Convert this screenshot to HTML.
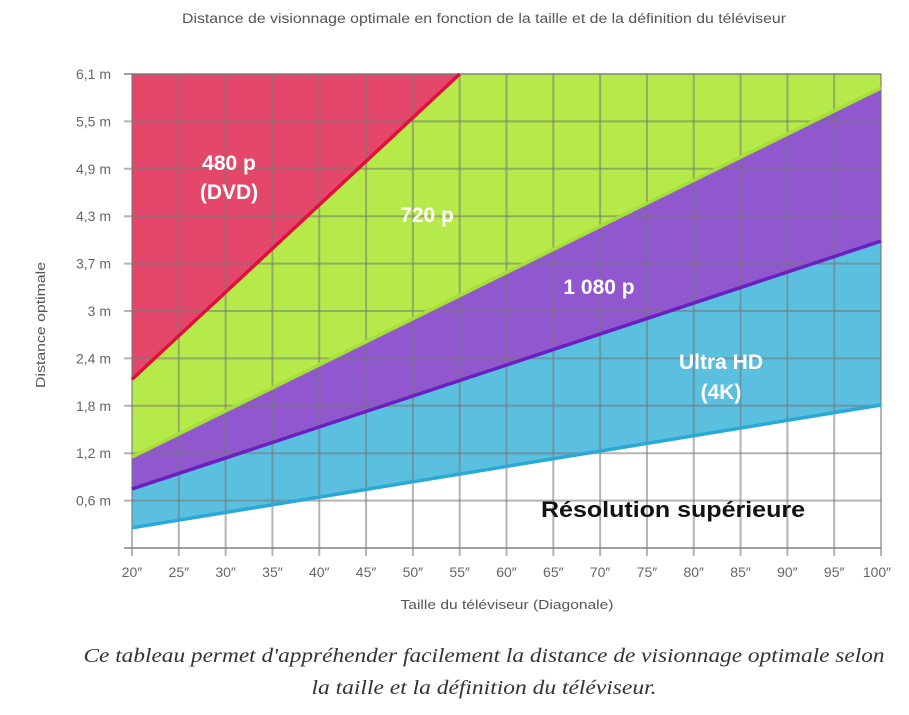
<!DOCTYPE html>
<html><head><meta charset="utf-8"><style>
body{margin:0;background:#fff;width:909px;height:710px;overflow:hidden;font-family:"Liberation Sans",sans-serif}
</style></head><body>
<svg id="chart" width="909" height="710" xmlns="http://www.w3.org/2000/svg">
<text x="484" y="23" text-anchor="middle" font-size="13.5" fill="#555" textLength="604" lengthAdjust="spacingAndGlyphs">Distance de visionnage optimale en fonction de la taille et de la définition du téléviseur</text>
<g id="fills"></g><g id="grid"></g><g id="lines"></g><g id="axes"></g>
<text x="229" y="170" text-anchor="middle" font-size="21" font-weight="bold" fill="#fff">480 p</text>
<text x="229" y="199" text-anchor="middle" font-size="21" font-weight="bold" fill="#fff">(DVD)</text>
<text x="427" y="222" text-anchor="middle" font-size="21" font-weight="bold" fill="#fff">720 p</text>
<text x="599" y="294" text-anchor="middle" font-size="21" font-weight="bold" fill="#fff">1 080 p</text>
<text x="721" y="369" text-anchor="middle" font-size="21" font-weight="bold" fill="#fff">Ultra HD</text>
<text x="721" y="399" text-anchor="middle" font-size="21" font-weight="bold" fill="#fff">(4K)</text>
<text x="673" y="517" text-anchor="middle" font-size="22" font-weight="bold" fill="#111" textLength="264" lengthAdjust="spacingAndGlyphs">Résolution supérieure</text>
<text transform="translate(45,325) rotate(-90)" text-anchor="middle" font-size="13" fill="#555" textLength="126" lengthAdjust="spacingAndGlyphs">Distance optimale</text>
<text x="507" y="609" text-anchor="middle" font-size="13" fill="#555" textLength="213" lengthAdjust="spacingAndGlyphs">Taille du téléviseur (Diagonale)</text>
<text x="484" y="662" text-anchor="middle" font-size="20" font-style="italic" font-family="Liberation Serif, serif" fill="#333" textLength="801" lengthAdjust="spacingAndGlyphs">Ce tableau permet d'appréhender facilement la distance de visionnage optimale selon</text>
<text x="484" y="694" text-anchor="middle" font-size="20" font-style="italic" font-family="Liberation Serif, serif" fill="#333" textLength="345" lengthAdjust="spacingAndGlyphs">la taille et la définition du téléviseur.</text>
</svg>
<script>
const xTicks=[20,25,30,35,40,45,50,55,60,65,70,75,80,85,90,95,100];
const yTicks=[0,0.61,1.22,1.83,2.44,3.05,3.66,4.27,4.88,5.49,6.1];
const yTickLabels=["","0,6 m","1,2 m","1,8 m","2,4 m","3 m","3,7 m","4,3 m","4,9 m","5,5 m","6,1 m"];
const line480=[[20,2.17],[55,6.1]];
const line720=[[20,1.17],[100,5.92]];
const line1080=[[20,0.76],[100,3.95]];
const line4k=[[20,0.26],[100,1.84]];
const NS="http://www.w3.org/2000/svg";
const X=v=>132+(v-20)*(881-132)/80;
const Y=v=>548-v*(548-74)/6.1;
function mk(p,t,a){const e=document.createElementNS(NS,t);for(const k in a)e.setAttribute(k,a[k]);document.getElementById(p).appendChild(e);return e;}
const pts=l=>l.map(p=>X(p[0])+","+Y(p[1])).join(" ");
const TOP=6.1;
let e;
e=mk("fills","rect",{x:X(20),y:Y(TOP),width:X(100)-X(20),height:Y(0)-Y(TOP),fill:"#fff"});

e=mk("fills","polygon",{points:pts([[20,line4k[0][1]],[100,line4k[1][1]],[100,TOP],[20,TOP]]),fill:"#5bbfdf"});

e=mk("fills","polygon",{points:pts([[20,line1080[0][1]],[100,line1080[1][1]],[100,TOP],[20,TOP]]),fill:"#9057cf"});

e=mk("fills","polygon",{points:pts([[20,line720[0][1]],[100,line720[1][1]],[100,TOP],[20,TOP]]),fill:"#b6ea4a"});

e=mk("fills","polygon",{points:pts([line480[0],line480[1],[20,TOP]]),fill:"#e5476a"});

xTicks.forEach((t,i)=>{
 let g=mk("grid","line",{x1:X(t),x2:X(t),y1:Y(TOP),y2:Y(0)+8,stroke:"#777","stroke-opacity":0.55,"stroke-width":2});
 
 let tx=mk("axes","text",{x:X(t)+(i==xTicks.length-1?-4:0),y:Y(0)+29,"text-anchor":"middle","font-size":"14",fill:"#666"});
 tx.textContent=t+"″";
 
});
yTicks.forEach((t,i)=>{
 let g=mk("grid","line",{x1:124,x2:X(100),y1:Y(t),y2:Y(t),stroke:"#777","stroke-opacity":(i==0||i==yTicks.length-1)?0.7:0.55,"stroke-width":2});
 
 if(yTickLabels[i]){let tx=mk("axes","text",{x:111,y:Y(t)+5,"text-anchor":"end","font-size":"14",fill:"#666"});
 tx.textContent=yTickLabels[i];
 }
});
[[line480,"#e0103c","line-480p"],[line720,"#a6df35","line-720p"],[line1080,"#6a20c0","line-1080p"],[line4k,"#2aa8d6","line-4k"]].forEach(([l,c,n])=>{
 let p=mk("lines","polyline",{points:pts(l),stroke:c,"stroke-width":3.5,fill:"none"});
 
});
</script>
</body></html>
